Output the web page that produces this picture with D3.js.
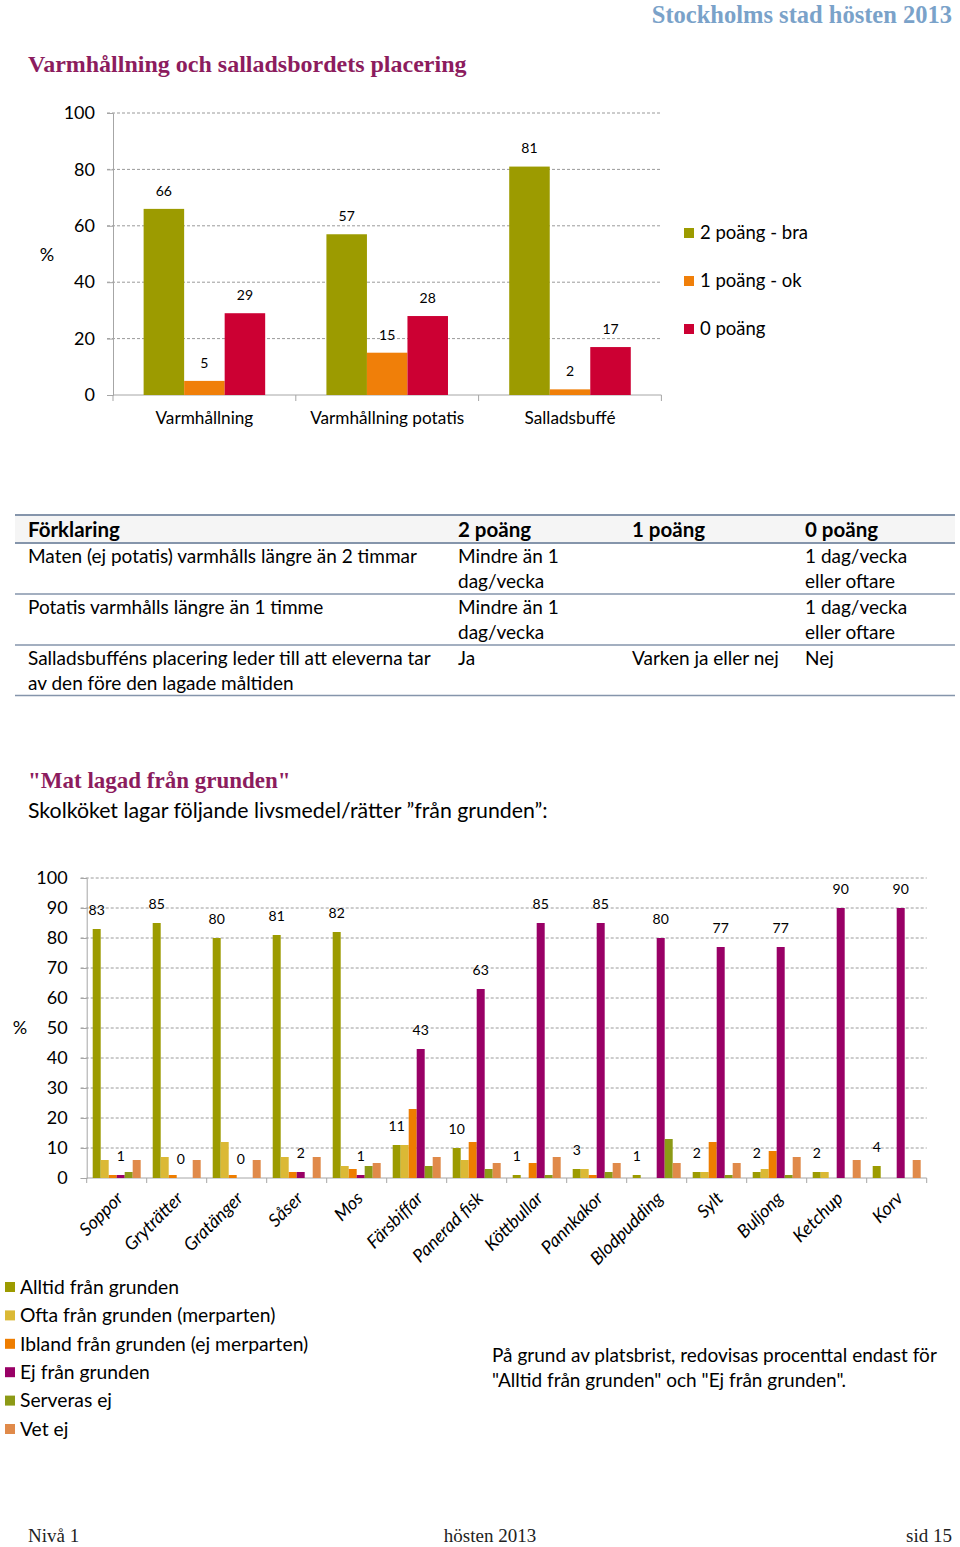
<!DOCTYPE html>
<html>
<head>
<meta charset="utf-8">
<script src="https://cdn.jsdelivr.net/npm/d3@7"></script>
<style>
  html, body { margin: 0; padding: 0; background: #fff; }
  svg { display: block; }
</style>
</head>
<body>
<div id="page"></div>
<script>
// Top chart: varmhållning och salladsbordets placering
const topCategories = ["Varmhållning", "Varmhållning potatis", "Salladsbuffé"];
const topSeries = ["2 poäng - bra", "1 poäng - ok", "0 poäng"];
const topBra = [66, 57, 81];
const topOk = [5, 15, 2];
const topNoll = [29, 28, 17];
const topTicks = [0, 20, 40, 60, 80, 100];

// Explanation table
const tableHeader = ["Förklaring", "2 poäng", "1 poäng", "0 poäng"];
const tableRows = [
  [["Maten (ej potatis) varmhålls längre än 2 timmar"], ["Mindre än 1", "dag/vecka"], [], ["1 dag/vecka", "eller oftare"]],
  [["Potatis varmhålls längre än 1 timme"], ["Mindre än 1", "dag/vecka"], [], ["1 dag/vecka", "eller oftare"]],
  [["Salladsbufféns placering leder till att eleverna tar", "av den före den lagade måltiden"], ["Ja"], ["Varken ja eller nej"], ["Nej"]]
];

// Bottom chart: mat lagad från grunden
const dishes = ["Soppor", "Gryträtter", "Gratänger", "Såser", "Mos", "Färsbiffar", "Panerad fisk",
  "Köttbullar", "Pannkakor", "Blodpudding", "Sylt", "Buljong", "Ketchup", "Korv"];
const dishSeries = ["Alltid från grunden", "Ofta från grunden (merparten)", "Ibland från grunden (ej merparten)",
  "Ej från grunden", "Serveras ej", "Vet ej"];
const alltid = [83, 85, 80, 81, 82, 11, 10, 1, 3, 1, 2, 2, 2, 4];
const ofta = [6, 7, 12, 7, 4, 11, 6, 0, 3, 0, 2, 3, 2, 0];
const ibland = [1, 1, 1, 2, 3, 23, 12, 5, 1, 0, 12, 9, 0, 0];
const ejGrunden = [1, 0, 0, 2, 1, 43, 63, 85, 85, 80, 77, 77, 90, 90];
const serverasEj = [2, 0, 0, 0, 4, 4, 3, 1, 2, 13, 1, 1, 0, 0];
const vetEj = [6, 6, 6, 7, 5, 7, 5, 7, 5, 5, 5, 7, 6, 6];
const bottomTicks = [0, 10, 20, 30, 40, 50, 60, 70, 80, 90, 100];

const W = 960, H = 1547;
const sans = "Lato, 'Open Sans', sans-serif";
const serif = "'Liberation Serif', 'DejaVu Serif', serif";
const purpleTitle = "#8c1c5e";
const gridColor = "#9a9a9a";
const axisColor = "#a6a6a6";

const svg = d3.select("#page").append("svg")
  .attr("width", W)
  .attr("height", H)
  .attr("font-family", sans)
  .attr("fill", "#000");

// header
svg.append("text")
  .attr("x", 952).attr("y", 23)
  .attr("text-anchor", "end")
  .attr("font-family", serif).attr("font-weight", "bold").attr("font-size", 24.5)
  .attr("fill", "#7aa2c9")
  .text("Stockholms stad hösten 2013");

svg.append("text")
  .attr("x", 28).attr("y", 72)
  .attr("font-family", serif).attr("font-weight", "bold").attr("font-size", 24)
  .attr("fill", purpleTitle)
  .text("Varmhållning och salladsbordets placering");

// ---------- top chart ----------
{
  const x0 = d3.scaleBand().domain(topCategories).range([113, 661.4]).paddingInner(0.335).paddingOuter(0.1675);
  const x1 = d3.scaleBand().domain(topSeries).range([0, x0.bandwidth()]);
  const y = d3.scaleLinear().domain([0, 100]).range([395, 113]);
  const color = d3.scaleOrdinal().domain(topSeries).range(["#9c9b00", "#f07f09", "#cc0033"]);
  const data = topCategories.map((c, i) => ({cat: c, values: [topBra[i], topOk[i], topNoll[i]]}));

  const g = svg.append("g");

  // gridlines
  g.selectAll("line.grid")
    .data(topTicks.filter(t => t > 0))
    .join("line")
    .attr("x1", 107).attr("x2", 661.4)
    .attr("y1", d => y(d)).attr("y2", d => y(d))
    .attr("stroke", gridColor).attr("stroke-width", 1).attr("stroke-dasharray", "3,2");

  // y axis
  const yAxis = g.append("g")
    .attr("transform", "translate(113,0)")
    .call(d3.axisLeft(y).tickValues(topTicks).tickSize(6).tickPadding(12));
  yAxis.select(".domain").attr("stroke", axisColor);
  yAxis.selectAll(".tick line").attr("stroke", axisColor);
  yAxis.selectAll(".tick text").attr("font-family", sans).attr("font-size", 18).attr("fill", "#000");

  // x axis
  const xAxis = g.append("g").attr("transform", "translate(0,395)");
  xAxis.append("line").attr("x1", 113).attr("x2", 661.4).attr("stroke", axisColor);
  xAxis.selectAll("line.tick")
    .data(d3.range(topCategories.length + 1))
    .join("line")
    .attr("x1", i => 113 + i * x0.step()).attr("x2", i => 113 + i * x0.step())
    .attr("y1", 0).attr("y2", 6).attr("stroke", axisColor);
  xAxis.selectAll("text")
    .data(topCategories)
    .join("text")
    .attr("x", d => x0(d) + x0.bandwidth() / 2)
    .attr("y", 23).attr("dy", "0.35em")
    .attr("text-anchor", "middle").attr("font-size", 17.2)
    .text(d => d);

  const grp = g.selectAll("g.cat")
    .data(data)
    .join("g")
    .attr("transform", d => `translate(${x0(d.cat)},0)`);
  const bars = grp.selectAll("g.bar")
    .data(d => d.values.map((v, i) => ({key: topSeries[i], value: v})))
    .join("g");
  bars.append("rect")
    .attr("x", d => x1(d.key)).attr("width", x1.bandwidth())
    .attr("y", d => y(d.value)).attr("height", d => y(0) - y(d.value))
    .attr("fill", d => color(d.key));
  bars.append("text")
    .attr("x", d => x1(d.key) + x1.bandwidth() / 2)
    .attr("y", d => y(d.value) - 18).attr("dy", "0.35em")
    .attr("text-anchor", "middle").attr("font-size", 14)
    .text(d => d.value);

  g.append("text")
    .attr("x", 47).attr("y", 255).attr("dy", "0.35em")
    .attr("text-anchor", "middle").attr("font-size", 18).text("%");

  // legend
  const leg = g.selectAll("g.leg")
    .data(topSeries)
    .join("g")
    .attr("transform", (d, i) => `translate(684,${233 + i * 48})`);
  leg.append("rect").attr("x", 0).attr("y", -5).attr("width", 10).attr("height", 10).attr("fill", d => color(d));
  leg.append("text").attr("x", 16).attr("dy", "0.35em").attr("font-size", 18.5).text(d => d);
}

// ---------- table ----------
{
  const colX = [28, 458, 632, 805];
  const g = svg.append("g").attr("font-size", 19);
  g.append("rect").attr("x", 15).attr("y", 515).attr("width", 940).attr("height", 28).attr("fill", "#f5f5f5");
  g.selectAll("text.head")
    .data(tableHeader)
    .join("text")
    .attr("x", (d, i) => colX[i]).attr("y", 530).attr("dy", "0.35em")
    .attr("font-weight", "bold").attr("font-size", 20.5)
    .text(d => d);
  const rowTop = [543, 594, 645];
  tableRows.forEach((row, r) => {
    row.forEach((cell, c) => {
      cell.forEach((line, l) => {
        g.append("text")
          .attr("x", colX[c]).attr("y", rowTop[r] + 13 + l * 25).attr("dy", "0.35em")
          .text(line);
      });
    });
  });
  const lines = [{y: 515, w: 2.2}, {y: 543, w: 2}, {y: 594, w: 1.6}, {y: 645, w: 1.6}, {y: 695.5, w: 1.6}];
  g.selectAll("line")
    .data(lines)
    .join("line")
    .attr("x1", 15).attr("x2", 955)
    .attr("y1", d => d.y).attr("y2", d => d.y)
    .attr("stroke", "#8595ab").attr("stroke-width", d => d.w);
}

// ---------- bottom chart ----------
svg.append("text")
  .attr("x", 28).attr("y", 788)
  .attr("font-family", serif).attr("font-weight", "bold").attr("font-size", 23)
  .attr("fill", purpleTitle)
  .text("\"Mat lagad från grunden\"");
svg.append("text")
  .attr("x", 28).attr("y", 818)
  .attr("font-size", 21.3)
  .text("Skolköket lagar följande livsmedel/rätter ”från grunden”:");

{
  const x0 = d3.scaleBand().domain(dishes).range([86.7, 926.7]).paddingInner(0.2).paddingOuter(0.1);
  const x1 = d3.scaleBand().domain(dishSeries).range([0, x0.bandwidth()]);
  const y = d3.scaleLinear().domain([0, 100]).range([1178, 878]);
  const color = d3.scaleOrdinal().domain(dishSeries)
    .range(["#9c9b00", "#dbb935", "#ee7d00", "#990066", "#8c9a16", "#e08a4a"]);
  const seriesValues = [alltid, ofta, ibland, ejGrunden, serverasEj, vetEj];
  const labelled = new Set(["Alltid från grunden", "Ej från grunden"]);
  const data = dishes.map((c, i) => ({cat: c, values: seriesValues.map(s => s[i])}));

  const g = svg.append("g");

  g.selectAll("line.grid")
    .data(bottomTicks.filter(t => t > 0))
    .join("line")
    .attr("x1", 80.7).attr("x2", 926.7)
    .attr("y1", d => y(d)).attr("y2", d => y(d))
    .attr("stroke", gridColor).attr("stroke-width", 1).attr("stroke-dasharray", "3,2");

  const yAxis = g.append("g")
    .attr("transform", "translate(86.7,0)")
    .call(d3.axisLeft(y).tickValues(bottomTicks).tickSize(6).tickPadding(13));
  yAxis.select(".domain").attr("stroke", axisColor);
  yAxis.selectAll(".tick line").attr("stroke", axisColor);
  yAxis.selectAll(".tick text").attr("font-family", sans).attr("font-size", 18).attr("fill", "#000");

  const xAxis = g.append("g").attr("transform", "translate(0,1178)");
  xAxis.append("line").attr("x1", 86.7).attr("x2", 926.7).attr("stroke", axisColor);
  xAxis.selectAll("line.tick")
    .data(d3.range(dishes.length + 1))
    .join("line")
    .attr("x1", i => 86.7 + i * x0.step()).attr("x2", i => 86.7 + i * x0.step())
    .attr("y1", 0).attr("y2", 5).attr("stroke", axisColor);
  xAxis.selectAll("text")
    .data(dishes)
    .join("text")
    .attr("transform", d => `translate(${x0(d) + x0.bandwidth() / 2 + 3},${17}) rotate(-45)`)
    .attr("dy", "0.35em")
    .attr("text-anchor", "end").attr("font-style", "italic").attr("font-size", 18)
    .text(d => d);

  const grp = g.selectAll("g.cat")
    .data(data)
    .join("g")
    .attr("transform", d => `translate(${x0(d.cat)},0)`);
  const bars = grp.selectAll("g.bar")
    .data(d => d.values.map((v, i) => ({key: dishSeries[i], value: v})))
    .join("g");
  bars.append("rect")
    .attr("x", d => x1(d.key)).attr("width", x1.bandwidth())
    .attr("y", d => y(d.value)).attr("height", d => y(0) - y(d.value))
    .attr("fill", d => color(d.key));
  bars.filter(d => labelled.has(d.key)).append("text")
    .attr("x", d => x1(d.key) + x1.bandwidth() / 2)
    .attr("y", d => y(d.value) - 19).attr("dy", "0.35em")
    .attr("text-anchor", "middle").attr("font-size", 14)
    .text(d => d.value);

  g.append("text")
    .attr("x", 20).attr("y", 1028).attr("dy", "0.35em")
    .attr("text-anchor", "middle").attr("font-size", 18).text("%");

  const leg = g.selectAll("g.leg")
    .data(dishSeries)
    .join("g")
    .attr("transform", (d, i) => `translate(5,${1287 + i * 28.4})`);
  leg.append("rect").attr("x", 0).attr("y", -5).attr("width", 10).attr("height", 10).attr("fill", d => color(d));
  leg.append("text").attr("x", 15).attr("dy", "0.35em").attr("font-size", 19.3).text(d => d);
}

const note = ["På grund av platsbrist, redovisas procenttal endast för", "\"Alltid från grunden\" och \"Ej från grunden\"."];
svg.append("g").selectAll("text")
  .data(note)
  .join("text")
  .attr("x", 492).attr("y", (d, i) => 1355 + i * 25).attr("dy", "0.35em")
  .attr("font-size", 19)
  .text(d => d);

// footer
const footer = svg.append("g").attr("font-family", serif).attr("font-size", 19).attr("fill", "#222");
footer.append("text").attr("x", 28).attr("y", 1542).text("Nivå 1");
footer.append("text").attr("x", 490).attr("y", 1542).attr("text-anchor", "middle").text("hösten 2013");
footer.append("text").attr("x", 952).attr("y", 1542).attr("text-anchor", "end").text("sid 15");
</script>
</body>
</html>
